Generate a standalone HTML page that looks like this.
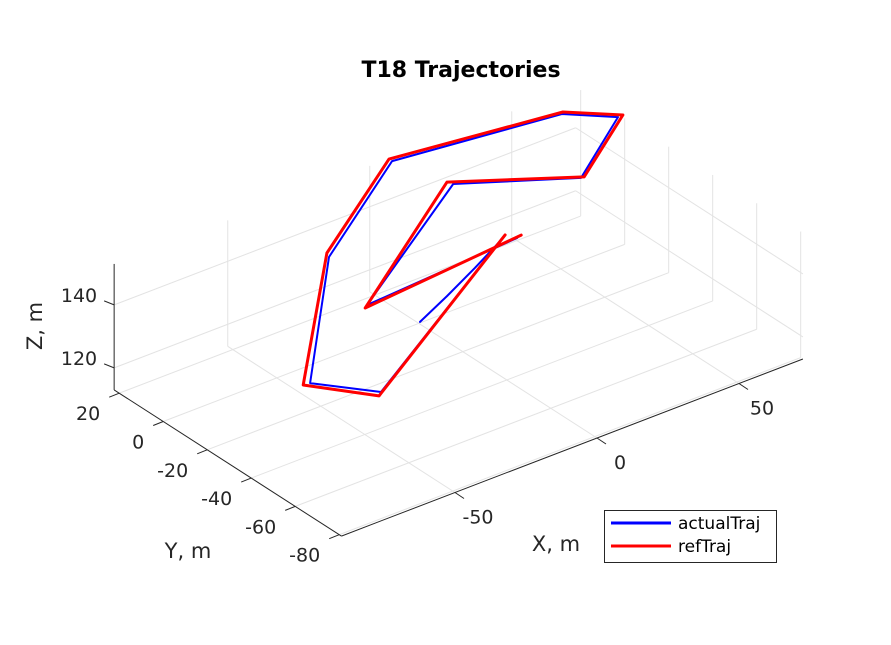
<!DOCTYPE html>
<html><head><meta charset="utf-8"><style>
html,body{margin:0;padding:0;background:#fff;}
svg{display:block;font-family:"DejaVu Sans","Liberation Sans",sans-serif;}
</style></head><body>
<svg id="chart" width="891" height="645" viewBox="0 0 891 645">
<rect width="891" height="645" fill="#fff"/>
<g id="grid"></g>
<g id="axes"></g>
<g id="series"></g>
<text x="461" y="77" text-anchor="middle" font-size="22" font-weight="bold" fill="#000">T18 Trajectories</text>
<text x="556" y="551" text-anchor="middle" font-size="21" fill="#262626">X, m</text>
<text x="188" y="558" text-anchor="middle" font-size="21" fill="#262626">Y, m</text>
<text x="0" y="0" transform="translate(42,326) rotate(-90)" text-anchor="middle" font-size="21" fill="#262626">Z, m</text>
<g>
<rect x="604.5" y="510.5" width="172" height="52" fill="#fff" stroke="#262626" stroke-width="1"/>
<line x1="611" y1="523" x2="671" y2="523" stroke="#0000ff" stroke-width="3"/>
<text x="678" y="529" font-size="17" fill="#000">actualTraj</text>
<line x1="611" y1="546" x2="671" y2="546" stroke="#ff0000" stroke-width="3"/>
<text x="678" y="552" font-size="17" fill="#000">refTraj</text>
</g>
</svg>
<script>
const xTicks = [-50, 0, 50];
const yTicks = [-80, -60, -40, -20, 0, 20];
const zTicks = [120, 140];
const xLim = [-90, 72.5];
const yLim = [-81, 22.3];
const zLim = [113, 153];
const refX = [31.0, -41.2, -54.2, -25.3, 9.8, 64.3, 76.5, 57.5, 25.5, -24.9, 34.5];
const refY = [0.8, -35.1, -17.4, 9.1, 26.2, 17.5, 6.0, -0.9, 20.1, -7.8, -2.0];
const refZ = [130, 120, 120, 140, 150, 150, 150, 140, 140, 130, 130];
const actX = [-12.2, 1.6, 15.2, 28.4, -39.4, -52.0, -26.2, 9.8, 63.4, 74.7, 56.5, 26.2, -23.5, 32.6];
const actY = [-16.3, -10.8, -5.9, -0.8, -33.7, -17.7, 7.0, 24.8, 16.8, 5.9, -0.8, 18.2, -6.8, -2.6];
const actZ = [125, 126, 128, 130, 120, 120, 140, 150, 150, 150, 140, 140, 130, 130];

const NS = "http://www.w3.org/2000/svg";
function proj(x, y, z) {
  const u = y - yLim[0];
  return [597 + 2.84 * x - 2.2 * u, 438 - 1.09 * x - 1.415 * u - 3.15 * (z - zLim[0])];
}
function mk(tag, attrs, parent) {
  const e = document.createElementNS(NS, tag);
  for (const k in attrs) e.setAttribute(k, attrs[k]);
  parent.appendChild(e);
  return e;
}
function seg(p, q, stroke, w, parent) {
  return mk("line", {x1: p[0], y1: p[1], x2: q[0], y2: q[1], stroke: stroke, "stroke-width": w}, parent);
}
const grid = document.getElementById("grid");
const axes = document.getElementById("axes");
const series = document.getElementById("series");
const gc = "#e3e3e3";
xTicks.forEach(x => {
  let l = seg(proj(x, yLim[0], zLim[0]), proj(x, yLim[1], zLim[0]), gc, 1, grid);
  
  
  l = seg(proj(x, yLim[1], zLim[0]), proj(x, yLim[1], zLim[1]), gc, 1, grid);
  
  
});
yTicks.forEach(y => {
  let l = seg(proj(xLim[0], y, zLim[0]), proj(xLim[1], y, zLim[0]), gc, 1, grid);
  
  
  l = seg(proj(xLim[1], y, zLim[0]), proj(xLim[1], y, zLim[1]), gc, 1, grid);
  
  
});
zTicks.forEach(z => {
  let l = seg(proj(xLim[0], yLim[1], z), proj(xLim[1], yLim[1], z), gc, 1, grid);
  
  
  l = seg(proj(xLim[1], yLim[0], z), proj(xLim[1], yLim[1], z), gc, 1, grid);
  
  
});
const ac = "#262626";
let a = seg(proj(xLim[0], yLim[0], zLim[0]), proj(xLim[1], yLim[0], zLim[0]), ac, 1, axes);


a = seg(proj(xLim[0], yLim[0], zLim[0]), proj(xLim[0], yLim[1], zLim[0]), ac, 1, axes);


a = seg(proj(xLim[0], yLim[1], zLim[0]), proj(xLim[0], yLim[1], zLim[1]), ac, 1, axes);


function label(txt, x, y, anchor, name) {
  const t = mk("text", {x: x, y: y, "text-anchor": anchor, "font-size": 19, fill: ac}, axes);
  t.textContent = txt;
  
  
}
xTicks.forEach(x => {
  const p = proj(x, yLim[0], zLim[0]);
  const t = seg(p, [p[0] + 9, p[1] + 6], ac, 1, axes);
  
  
  label(String(x), p[0] + 23, p[1] + 31, "middle", "x-tick-label");
});
yTicks.forEach(y => {
  const p = proj(xLim[0], y, zLim[0]);
  const t = seg(p, [p[0] - 10, p[1] + 4], ac, 1, axes);
  
  
  label(String(y), p[0] - 19, p[1] + 27, "end", "y-tick-label");
});
zTicks.forEach(z => {
  const p = proj(xLim[0], yLim[1], z);
  const t = seg(p, [p[0] - 10, p[1] - 4], ac, 1, axes);
  
  
  label(String(z), p[0] - 17, p[1] - 3, "end", "z-tick-label");
});
function path(X, Y, Z, color, w, name) {
  const pts = X.map((x, i) => proj(x, Y[i], Z[i]).map(v => v.toFixed(1)).join(",")).join(" ");
  const pl = mk("polyline", {points: pts, fill: "none", stroke: color, "stroke-width": w, "stroke-linejoin": "round", "stroke-linecap": "round"}, series);
  
  
}
path(actX, actY, actZ, "#0000ff", 2, "actual-trajectory");
path(refX, refY, refZ, "#ff0000", 3, "reference-trajectory");
</script>
</body></html>
